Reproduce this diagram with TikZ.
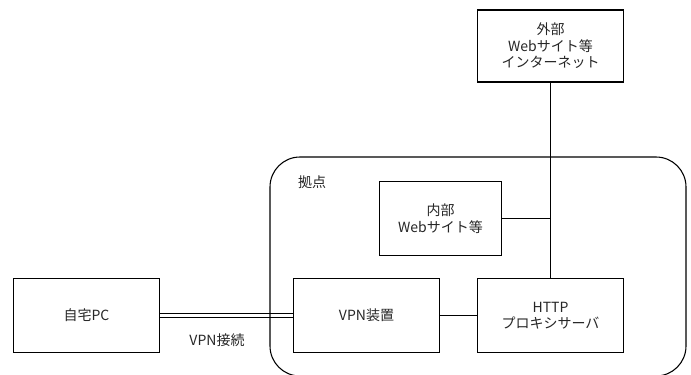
\documentclass[tikz,border=0pt]{standalone}
\usepackage{fontspec}
\newfontfamily\jpfont{Noto Sans CJK JP}
\usepackage{tikz}
\usetikzlibrary{positioning}

\begin{document}
\begin{tikzpicture}[x=0.75pt,y=-0.75pt,line width=0.8pt,
    every node/.style={font=\jpfont\fontsize{10.5}{12.3}\selectfont,align=center,text=black!85},
    box/.style={draw,minimum width=110pt,minimum height=55pt,inner sep=0pt}]
  \useasboundingbox (0,0) rectangle (691,374);
  % machines
  \node[box] (pc) at (86.5,315.5) {自宅PC};
  \node[box] (vpn) at (366.5,315.5) {VPN装置};
  \node[box] (proxy) at (550.5,315.5) {HTTP\\プロキシサーバ};
  \node[box,minimum width=92pt] (inner) at (440.5,218.5) {内部\\Webサイト等};
  \node[box,minimum height=54pt] (outer) at (550.5,46) {外部\\Webサイト等\\インターネット};
  % tunnel from home
  \draw[double,double distance=2.2pt] (pc) -- (vpn);
  \node (tunnel) at (217,340) {VPN接続};
  % site boundary
  \draw[rounded corners=22.5pt] (270,157) rectangle (686,376);
  \node (site) at (312,182) {拠点};
  % wiring inside the site
  \draw (vpn) -- (proxy);
  \draw (outer) -- (proxy);
  \draw (inner.east) -- (inner.east -| outer.south);
\end{tikzpicture}
\end{document}
